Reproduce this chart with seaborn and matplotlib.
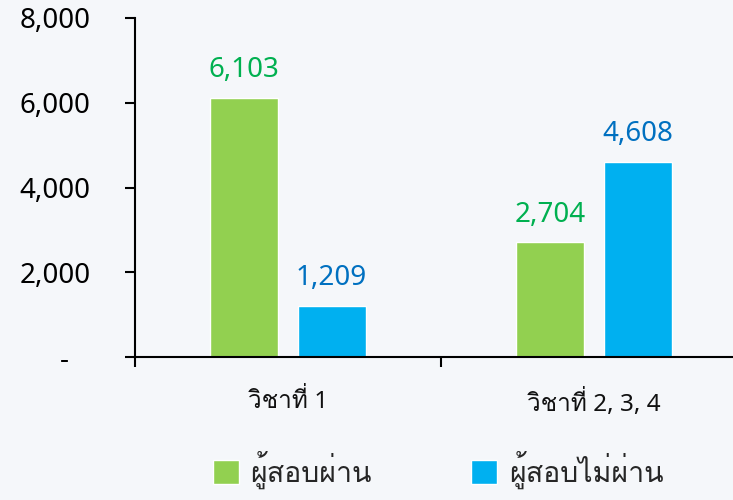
import matplotlib
matplotlib.use("Agg")
import matplotlib.pyplot as plt
import seaborn as sns
import pandas as pd
from matplotlib import font_manager
from matplotlib.ft2font import FT2Font
from matplotlib.patches import Patch
from matplotlib.ticker import FuncFormatter, FixedLocator

# -----------------------
# Data
# -----------------------
subjects = ["วิชาที่ 1", "วิชาที่ 2, 3, 4"]
groups = ["ผู้สอบผ่าน", "ผู้สอบไม่ผ่าน"]
passed = [6103, 2704]
failed = [1209, 4608]

bar_colors = ["#92d050", "#00b0f0"]
label_colors = ["#00b050", "#0070c0"]


# find any installed font that has Thai glyphs
def find_thai_font():
    names = []
    for f in font_manager.fontManager.ttflist:
        try:
            if 0x0E27 in FT2Font(f.fname).get_charmap():
                names.append(f.name)
        except Exception:
            pass
    return names[0] if names else None


sns.set_theme(style="white")
thai = find_thai_font()
# latin digits from Noto Sans, thai glyphs from whatever has them
plt.rcParams["font.family"] = ["Noto Sans", thai, "DejaVu Sans"] if thai else ["Noto Sans", "DejaVu Sans"]

df = pd.DataFrame({
    "subject": subjects * 2,
    "group": [groups[0]] * 2 + [groups[1]] * 2,
    "count": passed + failed,
})

fig = plt.figure(figsize=(7.33, 5), dpi=100, facecolor="#f5f7fa")
ax = fig.add_axes([0.1842, 0.286, 0.835, 0.678])
ax.set_facecolor("none")

sns.barplot(data=df, x="subject", y="count", hue="group", order=subjects,
            hue_order=groups, palette=bar_colors, width=0.57, gap=0.22,
            saturation=1, legend=False, ax=ax)

for cont, c in zip(ax.containers, label_colors):
    ax.bar_label(cont, labels=[f"{v:,.0f}" for v in cont.datavalues],
                 padding=10, color=c, fontsize=20)

ax.set_xlim(-0.5, 1.5)
ax.set_ylim(0, 8000)
ax.set_yticks([0, 2000, 4000, 6000, 8000])
# zero shows as an accounting-style dash
ax.yaxis.set_major_formatter(FuncFormatter(lambda v, p: "-   " if v == 0 else f"{v:,.0f}"))
ax.tick_params(axis="y", length=7, width=1.5, color="black", labelsize=20,
               pad=25, left=True, labelcolor="black")
ax.tick_params(axis="x", which="major", length=0, labelsize=17.5, pad=23,
               labelcolor="#111111")
ax.xaxis.set_minor_locator(FixedLocator([-0.5, 0.5, 1.5]))
ax.tick_params(axis="x", which="minor", length=7, width=1.5, color="black",
               bottom=True)
ax.set_xlabel("")
ax.set_ylabel("")

for s in ["top", "right"]:
    ax.spines[s].set_visible(False)
for s in ["left", "bottom"]:
    ax.spines[s].set_color("black")
    ax.spines[s].set_linewidth(1.5)

handles = [Patch(facecolor=c, label=g) for c, g in zip(bar_colors, groups)]
fig.legend(handles=handles, loc="lower left", bbox_to_anchor=(0.255, -0.03),
           ncol=2, frameon=False, fontsize=20.5, handlelength=0.92,
           handleheight=0.92, handletextpad=0.4, columnspacing=3.5)

fig.savefig("out.png", dpi=100, facecolor=fig.get_facecolor())
